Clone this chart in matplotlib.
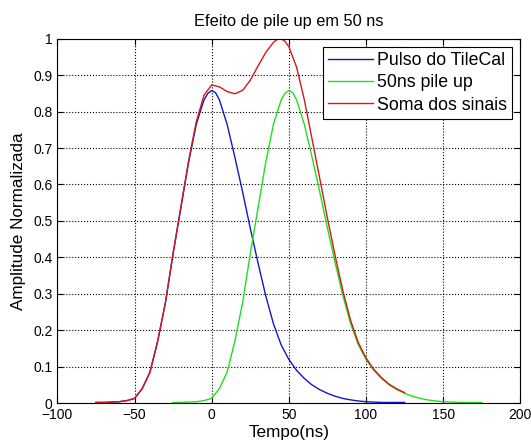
import numpy as np
import matplotlib
matplotlib.use('Agg')
import matplotlib.pyplot as plt

plt.rcParams['font.family'] = ['Liberation Sans', 'DejaVu Sans']

# TileCal pulse (ns, normalized amplitude)
t_pulso = [-75, -70, -65, -60, -55, -50, -45, -40, -35, -30, -25, -20, -15,
           -10, -5, -2.5, 0, 2.5, 5, 10, 15, 20, 25, 30, 35, 40, 45, 50, 55,
           60, 65, 70, 75, 80, 85, 90, 95, 100, 105, 110, 115, 120, 125]
pulso = [0.002, 0.002, 0.003, 0.004, 0.007, 0.013, 0.040, 0.085, 0.170, 0.275,
         0.410, 0.535, 0.660, 0.765, 0.832, 0.850, 0.858, 0.852, 0.832, 0.765,
         0.675, 0.580, 0.480, 0.385, 0.295, 0.218, 0.160, 0.120, 0.090, 0.068,
         0.050, 0.037, 0.027, 0.019, 0.013, 0.009, 0.006, 0.004, 0.003, 0.002,
         0.002, 0.002, 0.002]

# 50 ns pile up (same pulse, 50 ns later)
t_pileup = [-25, -20, -15, -10, -5, 0, 5, 10, 15, 20, 25, 30, 35, 40, 45,
            47.5, 50, 52.5, 55, 60, 65, 70, 75, 80, 85, 90, 95, 100, 105, 110,
            115, 120, 125, 130, 135, 140, 145, 150, 155, 160, 165, 170, 175]
pileup = [0.002, 0.002, 0.003, 0.004, 0.007, 0.013, 0.040, 0.085, 0.170, 0.275,
          0.410, 0.535, 0.660, 0.765, 0.832, 0.850, 0.858, 0.852, 0.832, 0.765,
          0.675, 0.580, 0.480, 0.385, 0.295, 0.218, 0.160, 0.120, 0.090, 0.068,
          0.050, 0.037, 0.027, 0.019, 0.013, 0.009, 0.006, 0.004, 0.003, 0.002,
          0.002, 0.002, 0.002]

# Sum of both signals
t_soma = [-75, -70, -65, -60, -55, -50, -45, -40, -35, -30, -25, -20, -15,
          -10, -5, 0, 5, 10, 15, 20, 25, 30, 35, 40, 42.5, 45, 47.5, 50, 55,
          60, 65, 70, 75, 80, 85, 90, 95, 100, 105, 110, 115, 120, 125]
soma = [0.002, 0.002, 0.003, 0.004, 0.007, 0.013, 0.040, 0.085, 0.170, 0.275,
        0.412, 0.538, 0.664, 0.772, 0.845, 0.873, 0.868, 0.855, 0.849, 0.858,
        0.886, 0.925, 0.962, 0.990, 0.998, 1.000, 0.993, 0.978, 0.922, 0.833,
        0.725, 0.617, 0.507, 0.404, 0.308, 0.227, 0.166, 0.124, 0.093, 0.070,
        0.052, 0.039, 0.029]

x_ticks = [-100, -50, 0, 50, 100, 150, 200]
y_ticks = [0, 0.1, 0.2, 0.3, 0.4, 0.5, 0.6, 0.7, 0.8, 0.9, 1]
y_labels = ['0', '0.1', '0.2', '0.3', '0.4', '0.5', '0.6', '0.7', '0.8', '0.9', '1']


def main():
    fig = plt.figure(figsize=(5.31, 4.45), dpi=100)
    ax = fig.add_axes([0.108, 0.094, 0.872, 0.819])

    ax.plot(t_pulso, pulso, color='#1515c8', lw=1, label='Pulso do TileCal')
    ax.plot(t_pileup, pileup, color='#1ee01e', lw=1, label='50ns pile up')
    ax.plot(t_soma, soma, color='#d81818', lw=1, label='Soma dos sinais')

    ax.set_xlim(-100, 200)
    ax.set_ylim(0, 1)
    ax.set_xticks(x_ticks)
    ax.set_yticks(y_ticks)
    ax.set_yticklabels(y_labels)
    ax.tick_params(direction='in', length=4, width=0.8, labelsize=10,
                   top=True, right=True)
    ax.grid(True, linestyle=':', color='black', lw=0.8)

    ax.set_title('Efeito de pile up em 50 ns', fontsize=11.8, pad=9)
    ax.set_xlabel('Tempo(ns)', fontsize=12.3, labelpad=2)
    ax.set_ylabel('Amplitude Normalizada', fontsize=12.3, labelpad=5)

    leg = ax.legend(loc='upper right', fontsize=12.8, fancybox=False,
                    framealpha=1, edgecolor='black', borderaxespad=0.45,
                    handlelength=2.5, handletextpad=0.25, borderpad=0.3,
                    labelspacing=0.3)
    leg.get_frame().set_linewidth(0.8)

    fig.savefig('out.png', dpi=100)


if __name__ == '__main__':
    main()
